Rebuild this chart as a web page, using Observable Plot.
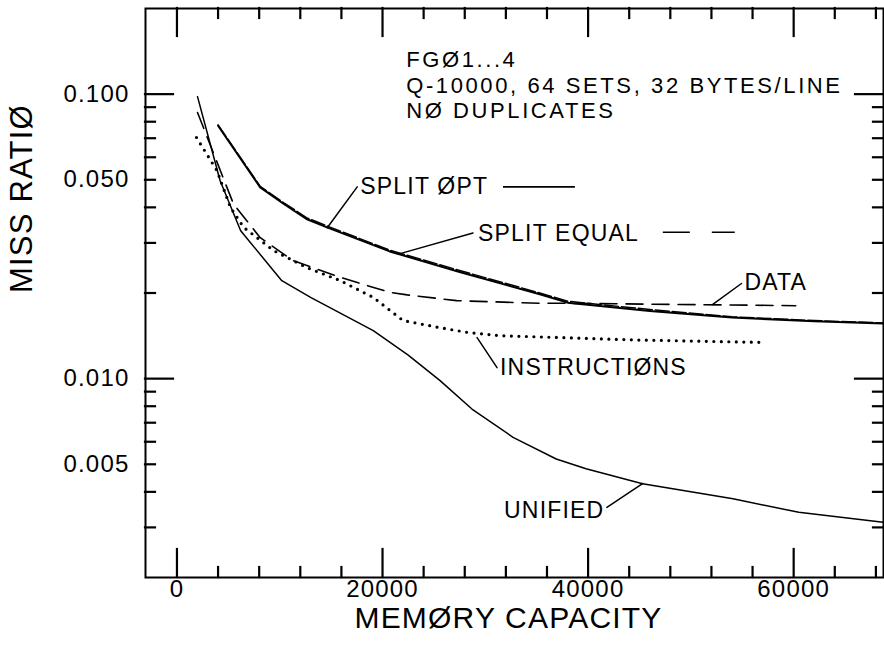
<!DOCTYPE html>
<html>
<head>
<meta charset="utf-8">
<script src="https://cdn.jsdelivr.net/npm/d3@7"></script>
<script src="https://cdn.jsdelivr.net/npm/@observablehq/plot@0.6"></script>
<style>
  html, body { margin: 0; padding: 0; background: #fff; }
  svg { display: block; }
</style>
</head>
<body>
<div id="chart"></div>
<script>
// ---------- data ----------
// Memory capacity (bytes) vs miss ratio
const unifiedX = [2000, 4200, 6200, 10200, 13000, 19100, 22500, 25600, 28700, 32700, 36900, 39800, 45300, 54100, 60500, 68700];
const unifiedY = [0.098, 0.0496, 0.0331, 0.0221, 0.0193, 0.01475, 0.0121, 0.00984, 0.00782, 0.00622, 0.00522, 0.00482, 0.00427, 0.00378, 0.00339, 0.00313];

const splitOptX = [4000, 8100, 10400, 12600, 14600, 20700, 27500, 35300, 38000, 46000, 54000, 62000, 68700];
const splitOptY = [0.0774, 0.0470, 0.0411, 0.0364, 0.0340, 0.0280, 0.0237, 0.0198, 0.0185, 0.0173, 0.0164, 0.0159, 0.01564];

const splitEqualX = [4000, 8100, 10400, 12600, 14600, 20700, 27500, 35300, 38000, 46000, 54000, 62000, 68700];
const splitEqualY = [0.0780, 0.0474, 0.0415, 0.0368, 0.0344, 0.0283, 0.0240, 0.0200, 0.0187, 0.0175, 0.0165, 0.0160, 0.01570];

const dataX = [2000, 5500, 8100, 11300, 15900, 20700, 22400, 27200, 35300, 38000, 60200];
const dataY = [0.0862, 0.0411, 0.0313, 0.0260, 0.0227, 0.0201, 0.0197, 0.0188, 0.0184, 0.0184, 0.01805];

const instrX = [1900, 3900, 5200, 6500, 9400, 12600, 15900, 19100, 22000, 25600, 28200, 31400, 44400, 56800];
const instrY = [0.0704, 0.0538, 0.0400, 0.0340, 0.0282, 0.0246, 0.0221, 0.0193, 0.0160, 0.0151, 0.01455, 0.01416, 0.01368, 0.01341];

// axis ticks
const xMajor = [0, 20000, 40000, 60000];
const xMinor = [4000, 8000, 12000, 16000, 24000, 28000, 32000, 36000, 44000, 48000, 52000, 56000, 64000, 68000];
const yMajor = [0.1, 0.01];
const yMinor = [0.003, 0.004, 0.005, 0.006, 0.007, 0.008, 0.009, 0.02, 0.03, 0.04, 0.05, 0.06, 0.07, 0.08, 0.09];
const yLabels = [0.1, 0.05, 0.01, 0.005];

const xTitle = "MEMØRY CAPACITY";
const yTitle = "MISS RATIØ";

// header text block
const headerLines = ["FGØ1...4", "Q-10000, 64 SETS, 32 BYTES/LINE", "NØ DUPLICATES"];
const headerX = [22300, 22300, 22300];
const headerY = [0.1320, 0.1072, 0.0874];

// curve annotations
const noteText = ["SPLIT ØPT", "SPLIT EQUAL", "DATA", "INSTRUCTIØNS", "UNIFIED"];
const noteX = [17830, 29290, 55210, 31430, 31820];
const noteY = [0.0472, 0.0323, 0.02174, 0.01093, 0.003439];
const arrowX1 = [17540, 28800, 54920, 31140, 41830];
const arrowY1 = [0.0472, 0.0325, 0.0216, 0.01093, 0.003527];
const arrowX2 = [14620, 21710, 52100, 29200, 45330];
const arrowY2 = [0.0339, 0.0275, 0.0182, 0.01394, 0.004282];
const arrowBend = [-50, -12, -45, 45, -40];

// legend line samples
const sampleName = ["solid", "dashed"];
const sampleX1 = [31720, 47270];
const sampleX2 = [38720, 54270];
const sampleY = [0.0472, 0.0327];

// ---------- build ----------
const zip = (xs, ys) => xs.map((x, i) => ({x, y: ys[i]}));
const unified = zip(unifiedX, unifiedY);
const splitOpt = zip(splitOptX, splitOptY);
const splitEqual = zip(splitEqualX, splitEqualY);
const dataS = zip(dataX, dataY);
const instr = zip(instrX, instrY);
const header = headerLines.map((t, i) => ({t, x: headerX[i], y: headerY[i]}));
const notes = noteText.map((t, i) => ({t, x: noteX[i], y: noteY[i], x1: arrowX1[i], y1: arrowY1[i], x2: arrowX2[i], y2: arrowY2[i], bend: arrowBend[i]}));
const samples = sampleName.map((n, i) => ({n, x1: sampleX1[i], x2: sampleX2[i], y: sampleY[i]}));

const W = 884, H = 648;
const mTop = 8, mBottom = 71, mLeft = 145, mRight = 1;
const frameH = H - mTop - mBottom;
const frameW = W - mLeft - mRight;
const FONT = "'Liberation Sans', Arial, sans-serif";
const INK = "#000";
const majorLen = 28, minorLen = 10;
const tickStyle = {stroke: INK, strokeWidth: 2.2, strokeLinecap: "square"};

const chart = Plot.plot({
  width: W,
  height: H,
  marginTop: mTop,
  marginBottom: mBottom,
  marginLeft: mLeft,
  marginRight: mRight,
  style: {fontFamily: FONT, color: INK, background: "#fff", letterSpacing: "1.2px", overflow: "visible"},
  x: {domain: [-3060, 68740], axis: null},
  y: {type: "log", domain: [0.002, 0.2], axis: null},
  marks: [
    // inward tick marks on all four sides
    Plot.ruleX(xMajor, {x: d => d, insetTop: frameH - majorLen, ...tickStyle}),
    Plot.ruleX(xMajor, {x: d => d, insetBottom: frameH - majorLen, ...tickStyle}),
    Plot.ruleX(xMinor, {x: d => d, insetTop: frameH - minorLen, ...tickStyle}),
    Plot.ruleX(xMinor, {x: d => d, insetBottom: frameH - minorLen, ...tickStyle}),
    Plot.ruleY(yMajor, {y: d => d, insetRight: frameW - majorLen, ...tickStyle}),
    Plot.ruleY(yMajor, {y: d => d, insetLeft: frameW - majorLen, ...tickStyle}),
    Plot.ruleY(yMinor, {y: d => d, insetRight: frameW - minorLen, ...tickStyle}),
    Plot.ruleY(yMinor, {y: d => d, insetLeft: frameW - minorLen, ...tickStyle}),
    Plot.frame({stroke: INK, strokeWidth: 2}),
    // tick labels
    Plot.text(xMajor, {x: d => d, frameAnchor: "bottom", dy: 19, text: d => String(d), fontSize: 24, fill: INK}),
    Plot.text(yLabels, {y: d => d, frameAnchor: "left", dx: -16, textAnchor: "end", text: d => d.toFixed(3), fontSize: 24, fill: INK}),
    // axis titles
    Plot.text([yTitle], {frameAnchor: "left", dx: -123, rotate: -90, text: d => d, fontSize: 31, fill: INK}),
    Plot.text([xTitle], {frameAnchor: "bottom", dx: -6, dy: 50, text: d => d, fontSize: 30, fill: INK}),
    // curves
    Plot.line(unified, {x: "x", y: "y", stroke: INK, strokeWidth: 1.5}),
    Plot.line(dataS, {x: "x", y: "y", stroke: INK, strokeWidth: 1.6, strokeDasharray: "17,9"}),
    Plot.line(instr, {x: "x", y: "y", stroke: INK, strokeWidth: 3.2, strokeDasharray: "0,7.5", strokeLinecap: "round"}),
    Plot.line(splitEqual, {x: "x", y: "y", stroke: INK, strokeWidth: 1.5, strokeDasharray: "14,3"}),
    Plot.line(splitOpt, {x: "x", y: "y", stroke: INK, strokeWidth: 2}),
    // header
    Plot.text(header, {x: "x", y: "y", text: "t", textAnchor: "start", fontSize: 22, fill: INK, ariaDescription: "header"}),
    // annotations
    Plot.text(notes, {x: "x", y: "y", text: "t", textAnchor: "start", fontSize: 23, fill: INK}),
    Plot.arrow(notes, {x1: "x1", y1: "y1", x2: "x2", y2: "y2", bend: d => d.bend, stroke: INK, strokeWidth: 1.5, headLength: 10}),
    Plot.link(samples.filter(d => d.n === "solid"), {x1: "x1", x2: "x2", y1: "y", y2: "y", stroke: INK, strokeWidth: 1.6}),
    Plot.link(samples.filter(d => d.n === "dashed"), {x1: "x1", x2: "x2", y1: "y", y2: "y", stroke: INK, strokeWidth: 1.6, strokeDasharray: "27,22"})
  ]
});
// wider tracking for the header block, as in the reference
d3.select(chart).selectAll('g[aria-description="header"]').style("letter-spacing", "2.6px");
document.getElementById("chart").appendChild(chart);
</script>
</body>
</html>
